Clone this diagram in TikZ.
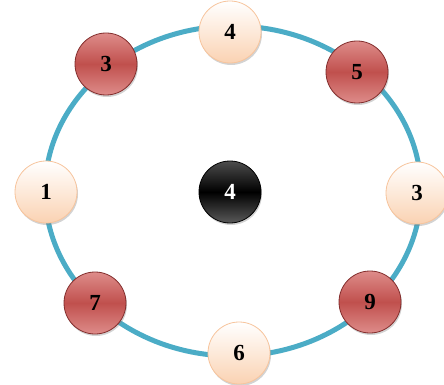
\documentclass[tikz,border=0pt]{standalone}
\usepackage{fontspec}
\setmainfont{Liberation Serif}
\usepackage{tikz}
\usetikzlibrary{shadows}

\definecolor{ringblue}{RGB}{75,172,198}
\definecolor{redmid}{RGB}{192,80,77}
\definecolor{redlight}{RGB}{222,140,138}
\definecolor{redrim}{RGB}{130,45,44}
\definecolor{peachmid}{RGB}{253,233,217}
\definecolor{peachlow}{RGB}{250,210,178}
\definecolor{peachrim}{RGB}{247,196,156}

\begin{document}
\begin{tikzpicture}[x=1pt,y=-1pt,thick,
  ball/.style={circle,minimum size=62pt,inner sep=0pt,
  font=\fontsize{23}{26}\selectfont\bfseries,
  drop shadow={shadow xshift=1pt,shadow yshift=-2pt,opacity=0.35}},
  light node/.style={ball,draw=peachrim,
  top color=white,bottom color=peachlow,middle color=peachmid},
  red node/.style={ball,draw=redrim,
  top color=redlight,bottom color=redlight,middle color=redmid},
  dark node/.style={ball,draw=black,text=white,
  top color=black!70,bottom color=black!65,middle color=black}]

  \useasboundingbox (0,0) rectangle (444,385);

  % the ring goes underneath the balls
  \draw[ringblue,line width=5pt] (233,191) ellipse [x radius=188,y radius=165];

  \node[light node] (top)   at (230,32)  {4};
  \node[red node]   (upl)   at (106,64)  {3};
  \node[red node]   (upr)   at (357,72)  {5};
  \node[light node] (left)  at (46,192)  {1};
  \node[dark node]  (mid)   at (230,192) {4};
  \node[light node] (right) at (417,193) {3};
  \node[red node]   (lowl)  at (95,303)  {7};
  \node[red node]   (lowr)  at (370,302) {9};
  \node[light node] (bot)   at (239,353) {6};
\end{tikzpicture}
\end{document}
